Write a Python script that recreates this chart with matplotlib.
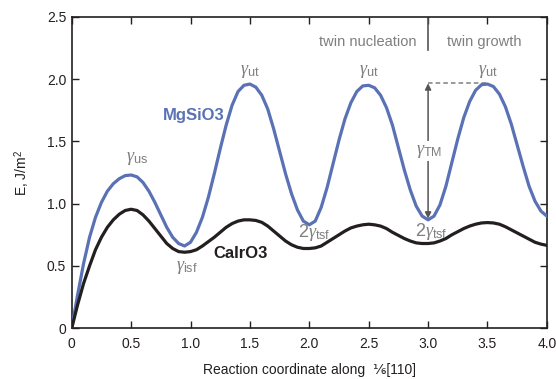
import matplotlib
matplotlib.use("Agg")
import matplotlib.pyplot as plt
import numpy as np

plt.rcParams['font.family'] = ['Liberation Sans', 'DejaVu Sans']
plt.rcParams['mathtext.fontset'] = 'custom'
plt.rcParams['mathtext.rm'] = 'Liberation Sans'
plt.rcParams['mathtext.sf'] = 'Liberation Sans'
plt.rcParams['mathtext.it'] = 'Liberation Serif:italic'
plt.rcParams['mathtext.bf'] = 'Liberation Sans:bold'

x = [i * 0.05 for i in range(81)]

mgsio3 = [0.00, 0.27, 0.52, 0.73, 0.89, 1.01, 1.10, 1.16, 1.20, 1.225,
          1.23, 1.215, 1.17, 1.10, 1.01, 0.91, 0.81, 0.73, 0.68, 0.66,
          0.69, 0.77, 0.89, 1.05, 1.24, 1.44, 1.63, 1.79, 1.90, 1.95,
          1.96, 1.935, 1.87, 1.76, 1.60, 1.42, 1.24, 1.08, 0.95, 0.86,
          0.83, 0.86, 0.97, 1.13, 1.32, 1.51, 1.68, 1.81, 1.90, 1.945,
          1.95, 1.93, 1.87, 1.77, 1.63, 1.45, 1.27, 1.11, 0.98, 0.90,
          0.87, 0.90, 0.99, 1.14, 1.33, 1.52, 1.69, 1.82, 1.91, 1.955,
          1.96, 1.94, 1.88, 1.78, 1.64, 1.47, 1.30, 1.14, 1.02, 0.94,
          0.90]

cairo3 = [0.00, 0.19, 0.36, 0.50, 0.63, 0.73, 0.81, 0.87, 0.915, 0.945,
          0.955, 0.945, 0.91, 0.86, 0.80, 0.74, 0.68, 0.64, 0.615, 0.61,
          0.615, 0.63, 0.66, 0.695, 0.73, 0.77, 0.81, 0.84, 0.86, 0.87,
          0.87, 0.865, 0.85, 0.82, 0.78, 0.74, 0.70, 0.67, 0.65, 0.64,
          0.64, 0.645, 0.66, 0.69, 0.72, 0.75, 0.78, 0.805, 0.82, 0.83,
          0.835, 0.83, 0.82, 0.80, 0.77, 0.745, 0.72, 0.70, 0.685, 0.68,
          0.68, 0.685, 0.70, 0.72, 0.75, 0.775, 0.80, 0.82, 0.835, 0.845,
          0.848, 0.845, 0.835, 0.815, 0.79, 0.765, 0.74, 0.715, 0.69, 0.675,
          0.665]

xticks = [0, 0.5, 1.0, 1.5, 2.0, 2.5, 3.0, 3.5, 4.0]
xticklabels = ['0', '0.5', '1.0', '1.5', '2.0', '2.5', '3.0', '3.5', '4.0']
yticks = [0, 0.5, 1.0, 1.5, 2.0, 2.5]
yticklabels = ['0', '0.5', '1.0', '1.5', '2.0', '2.5']

blue = '#5a72b5'
dark = '#231f20'
gray = '#7f7f7f'

fig = plt.figure(figsize=(5.56, 3.79), dpi=100)
ax = fig.add_axes([0.129, 0.134, 0.8546, 0.8217])

ax.plot(x, mgsio3, color=blue, lw=2.3, solid_capstyle='round', zorder=3)
ax.plot(x, cairo3, color=dark, lw=2.3, solid_capstyle='round', zorder=3)

ax.set_xlim(0, 4.0)
ax.set_ylim(0, 2.5)
ax.set_xticks(xticks)
ax.set_xticklabels(xticklabels)
ax.set_yticks(yticks)
ax.set_yticklabels(yticklabels)
ax.tick_params(direction='in', length=5, width=1.0, top=True, right=True,
               labelsize=10, colors=dark, pad=4)
ax.tick_params(axis='x', pad=6)
for s in ax.spines.values():
    s.set_linewidth(1.2)
    s.set_color(dark)

ax.set_ylabel('E, J/m$^{\\mathrm{2}}$', fontsize=10, color=dark, labelpad=11)
ax.set_xlabel('Reaction coordinate along  \u2159[110]', fontsize=10, color=dark, labelpad=9)

# region separator and labels
ax.plot([3.0, 3.0], [2.5, 2.23], color='#555555', lw=1.2)
ax.text(2.49, 2.30, 'twin nucleation', color=gray, fontsize=10.5, ha='center', va='center')
ax.text(3.475, 2.30, 'twin growth', color=gray, fontsize=10.5, ha='center', va='center')

# gamma_TM arrow and dashed line
ax.plot([3.0, 3.5], [1.966, 1.966], color=gray, lw=1.1, ls=(0, (3, 2)))
ax.annotate('', xy=(3.0, 1.966), xytext=(3.0, 0.88),
            arrowprops=dict(arrowstyle='<|-|>', color='#555555', lw=1.1,
                            mutation_scale=9, shrinkA=0, shrinkB=0))
ax.text(3.01, 1.42, r'$\gamma_{\mathrm{TM}}$', color=gray, fontsize=13,
        ha='center', va='center',
        bbox=dict(facecolor='white', edgecolor='none', pad=1.0), zorder=4)

# gamma labels
lab_kw = dict(color=gray, fontsize=13, ha='center', va='center')
ax.text(0.55, 1.36, r'$\gamma_{\mathrm{us}}$', **lab_kw)
ax.text(1.50, 2.06, r'$\gamma_{\mathrm{ut}}$', **lab_kw)
ax.text(2.50, 2.06, r'$\gamma_{\mathrm{ut}}$', **lab_kw)
ax.text(3.50, 2.06, r'$\gamma_{\mathrm{ut}}$', **lab_kw)
ax.text(0.97, 0.49, r'$\gamma_{\mathrm{isf}}$', **lab_kw)
ax.text(2.04, 0.765, r'$\mathrm{2}\gamma_{\mathrm{tsf}}$', **lab_kw)
ax.text(3.03, 0.775, r'$\mathrm{2}\gamma_{\mathrm{tsf}}$', **lab_kw)

# material labels
ax.text(1.03, 1.71, 'MgSiO3', color=blue, fontsize=12, fontweight='bold',
        ha='center', va='center')
ax.text(1.42, 0.60, 'CaIrO3', color=dark, fontsize=12, fontweight='bold',
        ha='center', va='center')

fig.savefig('out.png', dpi=100)
